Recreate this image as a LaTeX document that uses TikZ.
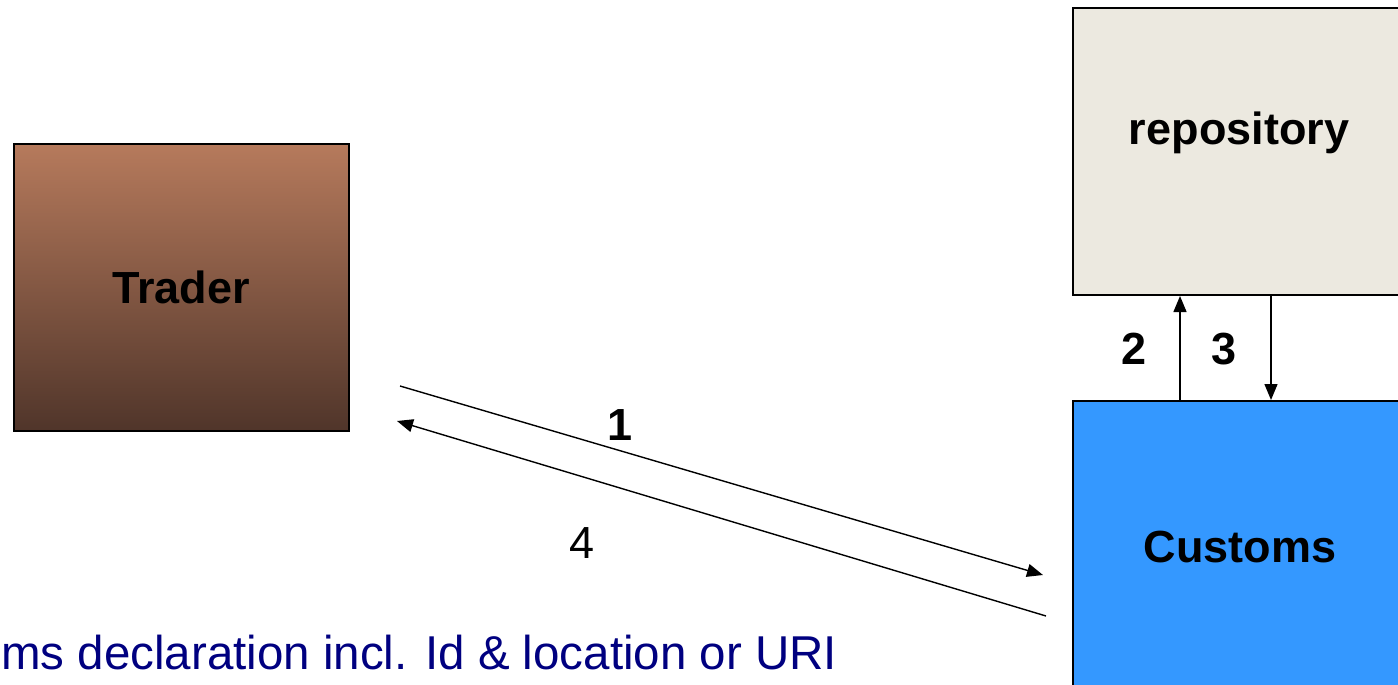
\documentclass[tikz,border=0pt]{standalone}
\usepackage{fontspec}
\setmainfont{Liberation Sans}
\usetikzlibrary{arrows.meta}
\definecolor{repofill}{RGB}{236,233,224}
\definecolor{custfill}{RGB}{52,152,255}
\definecolor{tradertop}{RGB}{182,122,92}
\definecolor{traderbot}{RGB}{80,53,42}
\definecolor{navytext}{RGB}{0,0,128}
\tikzset{
  box/.style={draw=black, line width=2pt, rectangle, inner sep=0pt},
  boxlabel/.style={font=\bfseries\fontsize{45}{50}\selectfont, anchor=base, inner sep=0pt},
  numlabel/.style={font=\bfseries\fontsize{45}{50}\selectfont, anchor=base, inner sep=0pt},
  plainnum/.style={font=\fontsize{45}{50}\selectfont, anchor=base, inner sep=0pt},
  flow/.style={draw=black, line width=1.4pt, -{Triangle[length=16pt,width=13pt]}},
}
\begin{document}
\begin{tikzpicture}[x=1pt,y=-1pt]
\useasboundingbox (0,0) rectangle (1398,685);
\clip (0,0) rectangle (1398,685);
% boxes
\node[box, minimum width=335pt, minimum height=287pt, top color=tradertop, bottom color=traderbot] (trader) at (181.5,287.5) {};
\node[box, fill=repofill, minimum width=334pt, minimum height=287pt] (repo) at (1240,151.5) {};
\node[box, fill=custfill, minimum width=334pt, minimum height=290pt] (customs) at (1240,546) {};
% box labels
\node[boxlabel] (tlabel) at (181,303) {Trader};
\node[boxlabel] (rlabel) at (1239,144) {repository};
\node[boxlabel] (clabel) at (1240,562) {Customs};
% vertical connectors
\coordinate (x2) at (1180,0);
\coordinate (x3) at (1271,0);
\draw[flow] (x2 |- customs.north) -- (x2 |- repo.south);
\draw[flow] (x3 |- repo.south) -- (x3 |- customs.north);
\node[numlabel] (n2) at (1134,364) {2};
\node[numlabel] (n3) at (1224,364) {3};
% diagonal connectors
\coordinate (a1s) at (400,386);
\coordinate (a1e) at (1043,575);
\coordinate (a4s) at (1046,616);
\coordinate (a4e) at (397,421);
\draw[flow] (a1s) -- (a1e);
\draw[flow] (a4s) -- (a4e);
\node[numlabel] (n1) at (620,440) {1};
\node[plainnum] (n4) at (582,558) {4};
% bottom text
\node[font=\fontsize{47.5}{54}\selectfont, text=navytext, anchor=base west, inner sep=0pt] (note) at (1,669) {ms declaration incl. Id \& location or URI};
\end{tikzpicture}
\end{document}
